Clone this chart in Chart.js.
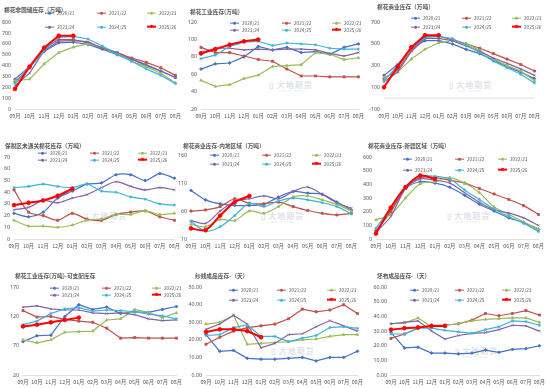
<!DOCTYPE html>
<html>
<head>
<meta charset="utf-8">
<script src="https://cdn.jsdelivr.net/npm/chart.js@4.4.1/dist/chart.umd.min.js"></script>
<style>
    body { margin: 0; background: #fff; font-family: "Noto Sans CJK SC", "Noto Sans", sans-serif; }
    #wrap { position: relative; width: 550px; height: 388px; overflow: hidden; }
    canvas { position: absolute; }
    .title { position: absolute; font-size: 5.7px; font-weight: bold; color: #595959; white-space: nowrap; line-height: 1; transform: translateY(-50%); }
    .leg { position: absolute; font-size: 4.7px; color: #595959; white-space: nowrap; line-height: 1; transform: translateY(-50%); display: flex; align-items: center; }
    .leg i { display: inline-block; width: 9px; height: 1.3px; margin-right: 3px; position: relative; }
    .leg i b { position: absolute; left: 3px; top: -1px; width: 3px; height: 3px; border-radius: 50%; }
    .wm { position: absolute; color: #dfe3ea; text-align: center; line-height: 1; pointer-events: none; }
    .wm .cn { font-size: 8px; font-weight: bold; letter-spacing: 1px; }
    .wm .en { font-size: 2.6px; letter-spacing: 0.5px; margin-top: 1px; }
</style>
</head>
<body>
<div id="wrap"></div>
<script>
const months = ['09月', '10月', '11月', '12月', '01月', '02月', '03月', '04月', '05月', '06月', '07月', '08月'];
const seasons = ['2020/21', '2021/22', '2022/23', '2023/24', '2024/25', '2025/26'];
const seasonColors = ['#4472c4', '#c0504d', '#9bbb59', '#8064a2', '#3fb2dc', '#ff0000'];
const markers = ['rectRot', 'rect', 'triangle', 'crossRot', 'star', 'circle'];

// 棉花非国储库存
const nonReserveStock = [
    [275, 390, 530, 610, 615, 595, 550, 500, 460, 400, 350, 290],
    [250, 380, 560, 640, 640, 610, 560, 520, 470, 430, 380, 310],
    [260, 275, 415, 520, 570, 600, 570, 520, 440, 390, 330, 240],
    [215, 330, 540, 625, 630, 620, 560, 520, 460, 410, 350, 290],
    [235, 380, 540, 660, 670, 645, 580, 500, 440, 370, 310, 235],
    [185, 390, 565, 675, 675]
];
// 棉花工业库存
const industrialStock = [
    [66, 72, 73, 80, 92, 88, 91, 85, 86, 83, 91, 95],
    [91, 85, 85, 81, 77, 75, 66, 58, 58, 57, 57, 57],
    [53, 46, 48, 55, 59, 69, 70, 71, 85, 83, 77, 79],
    [85, 90, 90, 88, 89, 88, 89, 89, 88, 84, 81, 85],
    [78, 82, 92, 97, 98, 93, 96, 95, 94, 90, 89, 89],
    [84, 89, 94, 98, 100]
];
// 棉花商业库存
const commercialStock = [
    [210, 310, 460, 530, 530, 500, 450, 410, 350, 290, 240, 180],
    [180, 260, 440, 570, 570, 540, 500, 460, 410, 360, 310, 250],
    [190, 240, 360, 450, 510, 530, 500, 440, 360, 300, 250, 160],
    [150, 240, 430, 550, 550, 530, 480, 430, 370, 320, 270, 210],
    [160, 300, 460, 560, 570, 550, 490, 420, 340, 280, 220, 140],
    [100, 290, 470, 580, 580]
];
// 保税区未通关棉花库存
const bondedStock = [
    [22, 19, 23, 35, 41, 47, 48, 55, 55, 50, 56, 52],
    [42, 23, 20, 16, 22, 17, 16, 21, 23, 24, 19, 16],
    [16, 11, 11, 10, 12, 16, 17, 21, 21, 24, 21, 22],
    [25, 27, 33, 31, 35, 38, 44, 49, 45, 42, 44, 42],
    [44, 45, 47, 45, 44, 47, 41, 40, 36, 34, 30, 29],
    [29, 31, 33, 37, 43]
];
// 棉花商业库存-内地区域
const inlandStock = [
    [97, 80, 73, 70, 70, 72, 85, 95, 92, 90, 76, 62],
    [60, 62, 68, 82, 74, 73, 76, 68, 61, 56, 53, 56],
    [36, 32, 45, 43, 60, 56, 68, 85, 87, 80, 72, 60],
    [43, 38, 60, 77, 82, 87, 82, 95, 103, 90, 75, 65],
    [41, 24, 32, 52, 74, 68, 78, 83, 80, 75, 68, 55],
    [29, 26, 52, 76, 87]
];
// 棉花商业库存-新疆区域
const xinjiangStock = [
    [60, 200, 370, 420, 410, 380, 320, 255, 205, 155, 120, 70],
    [60, 200, 380, 450, 450, 430, 410, 370, 330, 290, 245, 180],
    [140, 180, 300, 405, 420, 450, 410, 340, 235, 180, 125, 75],
    [50, 165, 370, 440, 430, 410, 340, 270, 215, 190, 155, 100],
    [80, 230, 385, 460, 460, 440, 360, 290, 220, 165, 115, 55],
    [40, 230, 380, 465, 440]
];
// 棉花工业库存-可支配库存
const disposableStock = [
    [77, 87, 88, 120, 140, 132, 136, 125, 128, 127, 132, 137],
    [130, 119, 120, 115, 112, 110, 100, 83, 84, 83, 83, 83],
    [80, 75, 80, 93, 94, 95, 114, 116, 132, 127, 118, 126],
    [136, 138, 133, 131, 131, 126, 125, 126, 123, 116, 113, 114],
    [106, 112, 125, 133, 135, 129, 131, 130, 128, 124, 121, 116],
    [103, 106, 110, 114, 118]
];
// 纱线成品库存（天）
const yarnDays = [
    [23, 13.5, 14, 9.5, 9, 9, 9.5, 10, 8, 10, 10, 13.5],
    [17.5, 21.5, 25, 27, 28, 29, 32, 37.5, 36, 37, 40, 35],
    [29, 30, 34, 17.5, 18, 18.5, 19, 20, 20.5, 22, 23, 23],
    [26, 29, 34, 29, 15.5, 18, 23, 23.5, 27.5, 31, 28, 25],
    [22.5, 23, 27, 28.5, 22, 22, 19, 21, 22.5, 27, 27.5, 26.5],
    [24.5, 26, 26, 25, 21.5]
];
// 坯布成品库存（天）
const greyClothDays = [
    [29, 18.5, 19, 15, 15, 14.5, 15, 17, 15.5, 17.5, 18, 20],
    [25, 28, 32, 34, 34, 35, 37.5, 42, 40.5, 42, 44, 41],
    [35, 35.5, 39, 33, 34, 35, 37, 38, 38.5, 39, 39, 36],
    [35, 36, 37, 30, 24.5, 27, 28.5, 29, 31, 34, 33.5, 30],
    [28, 28, 32, 32, 30.5, 29.5, 28.5, 31, 33, 37, 36.5, 34],
    [31, 32, 32.5, 33.5, 33.5]
];

// panel layout: plot area box (l,r,t,b), title pos, legend columns/rows
const panels = [
    {title: '棉花非国储库存（万吨）', data: nonReserveStock, min: 0, max: 800, step: 100, dec: 0, tension: 0,
        l: 15, r: 182, t: 21, b: 109, tx: 4, ty: 10, lx: [45, 97, 147], ly: [13, 27], wm: false},
    {title: '棉花工业库存(万吨)', data: industrialStock, min: 20, max: 120, step: 20, dec: 0, tension: 0,
        l: 201, r: 365, t: 21, b: 109, tx: 190, ty: 12, lx: [230, 282, 332], ly: [23, 30], wm: true},
    {title: '棉花商业库存（万吨）', data: commercialStock, min: -100, max: 700, step: 200, dec: 0, tension: 0,
        l: 384, r: 541, t: 21, b: 109, tx: 377, ty: 7, lx: [411, 462, 512], ly: [18, 27], wm: true, zero: true},
    {title: '保税区未通关棉花库存（万吨）', data: bondedStock, min: 0, max: 70, step: 5, dec: 0, tension: 0.3,
        l: 14, r: 181, t: 156, b: 239, tx: 5, ty: 146, lx: [38, 90, 138], ly: [153, 160], wm: true},
    {title: '棉花商业库存-内地区域（万吨）', data: inlandStock, min: 10, max: 160, step: 50, dec: 0, tension: 0.3,
        l: 191, r: 358, t: 154, b: 239, tx: 183, ty: 146, lx: [210, 262, 312], ly: [155, 164], wm: true},
    {title: '棉花商业库存-新疆区域（万吨）', data: xinjiangStock, min: 0, max: 600, step: 100, dec: 0, tension: 0.3,
        l: 376, r: 545, t: 156, b: 239, tx: 368, ty: 146, lx: [403, 455, 498], ly: [159, 170], wm: true},
    {title: '棉花工业库存(万吨)-可支配库存', data: disposableStock, min: 20, max: 170, step: 50, dec: 0, tension: 0,
        l: 23, r: 183, t: 286, b: 375, tx: 15, ty: 276, lx: [50, 102, 152], ly: [288, 295], wm: false},
    {title: '纱线成品库存-（天）', data: yarnDays, min: 0, max: 50, step: 10, dec: 2, tension: 0,
        l: 206, r: 364, t: 286, b: 375, tx: 195, ty: 276, lx: [229, 277, 327], ly: [290, 300], wm: true},
    {title: '坯布成品库存-（天）', data: greyClothDays, min: 0, max: 60, step: 10, dec: 2, tension: 0,
        l: 391, r: 546, t: 286, b: 375, tx: 377, ty: 276, lx: [410, 455, 502], ly: [290, 300], wm: true}
];

const wrap = document.getElementById('wrap');
const Y_W = 20, PAD_T = 6, PAD_R = 3, X_H = 13;

// Excel draws the category axis at zero, even when the scale goes below it
const zeroLine = {
    id: 'zeroLine',
    beforeDatasetsDraw(chart, args, opts) {
        if (!opts.on) return;
        const y = chart.scales.y.getPixelForValue(0);
        const ctx = chart.ctx;
        ctx.save();
        ctx.strokeStyle = '#d9d9d9';
        ctx.lineWidth = 0.8;
        ctx.beginPath();
        ctx.moveTo(chart.chartArea.left, y);
        ctx.lineTo(chart.chartArea.right, y);
        ctx.stroke();
        ctx.restore();
    }
};

function addDiv(cls, html, x, y) {
    const d = document.createElement('div');
    d.className = cls;
    d.innerHTML = html;
    d.style.left = x + 'px';
    d.style.top = y + 'px';
    wrap.appendChild(d);
    return d;
}

panels.forEach((p) => {
    const cv = document.createElement('canvas');
    const w = p.r - p.l + Y_W + PAD_R;
    const h = p.b - p.t + PAD_T + X_H;
    cv.width = w;
    cv.height = h;
    cv.style.left = (p.l - Y_W) + 'px';
    cv.style.top = (p.t - PAD_T) + 'px';
    cv.style.width = w + 'px';
    cv.style.height = h + 'px';

    if (p.wm) {
        addDiv('wm', '<div class="cn">▯ 大地期货</div><div class="en">DADI FUTURES</div>',
            (p.l + p.r) / 2 - 14, p.t + (p.b - p.t) * 0.68);
    }
    wrap.appendChild(cv);

    addDiv('title', p.title, p.tx, p.ty);
    seasons.forEach((s, i) => {
        const c = seasonColors[i];
        addDiv('leg', `<i style="background:${c};height:${i === 5 ? 1.8 : 1.2}px"><b style="background:${c}"></b></i>${s}`,
            p.lx[i % 3], p.ly[Math.floor(i / 3)]);
    });

    const yTicks = [];
    for (let v = p.min; v <= p.max + 1e-9; v += p.step) yTicks.push({value: v});

    new Chart(cv, {
        type: 'line',
        data: {
            labels: months,
            datasets: p.data.map((vals, i) => ({
                label: seasons[i],
                data: vals,
                borderColor: seasonColors[i],
                backgroundColor: seasonColors[i],
                borderWidth: i === 5 ? 2 : 1.2,
                pointStyle: markers[i],
                pointRadius: i === 5 ? 1.9 : 1.5,
                pointBorderWidth: 0.8,
                tension: p.tension,
                order: 6 - i
            }))
        },
        options: {
            responsive: false,
            devicePixelRatio: 1,
            animation: false,
            layout: {padding: {top: PAD_T, right: PAD_R, left: 0, bottom: 0}},
            plugins: {
                legend: {display: false},
                tooltip: {enabled: false},
                zeroLine: {on: !!p.zero}
            },
            scales: {
                x: {
                    afterFit: (s) => { s.height = X_H; },
                    grid: {display: false, drawTicks: false},
                    border: {display: !p.zero, color: '#d9d9d9', width: 0.8},
                    ticks: {font: {size: 5.3, family: 'Noto Sans CJK SC'}, color: '#595959', maxRotation: 0, autoSkip: false, padding: 4}
                },
                y: {
                    min: p.min,
                    max: p.max,
                    afterBuildTicks: (s) => { s.ticks = yTicks.map((t) => ({value: t.value})); },
                    afterFit: (s) => { s.width = Y_W; },
                    grid: {display: false, drawTicks: false},
                    border: {display: false},
                    ticks: {
                        font: {size: 5.3, family: 'Noto Sans'},
                        color: '#595959',
                        padding: 4,
                        callback: (v) => v.toFixed(p.dec)
                    }
                }
            }
        },
        plugins: [zeroLine]
    });
});
</script>
</body>
</html>
